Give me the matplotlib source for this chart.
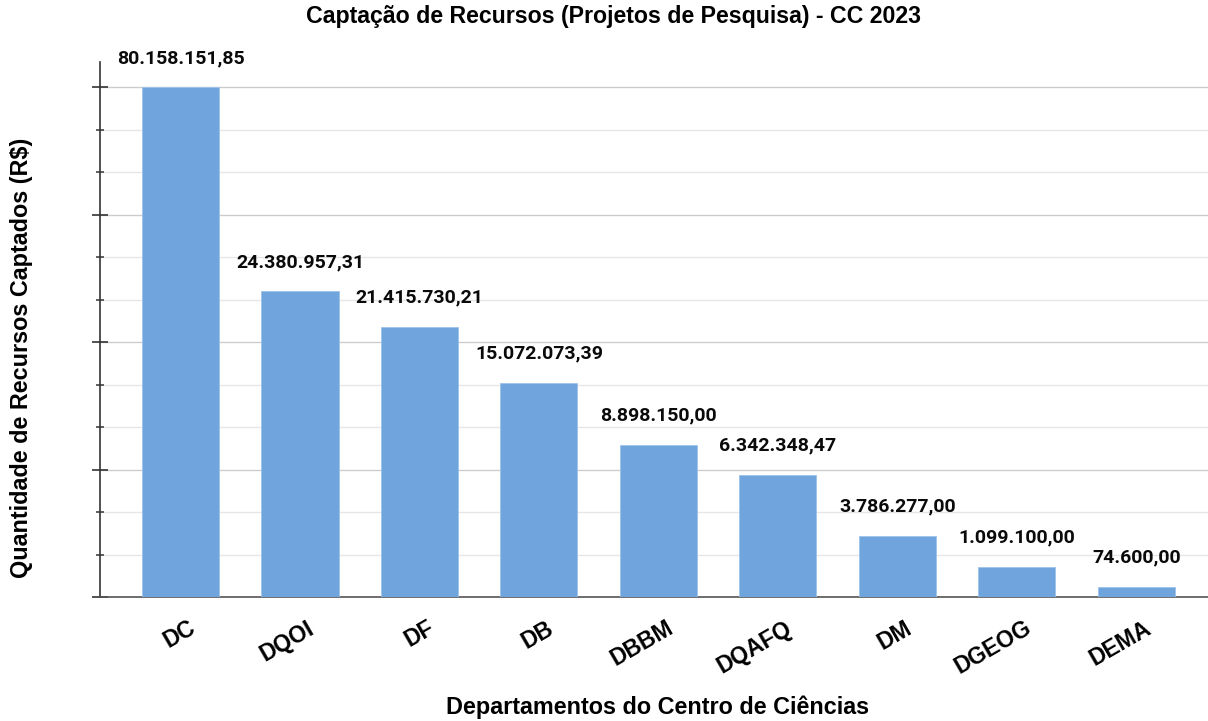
import matplotlib
matplotlib.use("Agg")
import matplotlib.pyplot as plt
import matplotlib.transforms as mtransforms
from matplotlib.ticker import MultipleLocator

# departments and the values printed above each bar (R$)
departments = ["DC", "DQOI", "DF", "DB", "DBBM", "DQAFQ", "DM", "DGEOG", "DEMA"]
value_labels = ["80.158.151,85", "24.380.957,31", "21.415.730,21", "15.072.073,39",
                "8.898.150,00", "6.342.348,47", "3.786.277,00", "1.099.100,00", "74.600,00"]
# bar heights as drawn in the reference, in gridline units (axis has no tick labels)
bar_heights = [12.0, 7.20, 6.37, 5.04, 3.59, 2.88, 1.445, 0.71, 0.235]

TITLE = "Captação de Recursos (Projetos de Pesquisa) - CC 2023"
X_LABEL = "Departamentos do Centro de Ciências"
Y_LABEL = "Quantidade de Recursos Captados (R$)"
BAR_COLOR = "#6fa5dc"
ARIAL = ["Liberation Sans", "DejaVu Sans"]


def main() -> None:
    fig = plt.figure(figsize=(12.08, 7.21), dpi=100)
    ax = fig.add_axes([100 / 1208, 1 - 597 / 721, 1 - 100 / 1208, (597 - 62) / 721])

    x = list(range(len(departments)))
    ax.bar(x, bar_heights, width=0.645, color=BAR_COLOR, edgecolor="#9cc2ea",
           linewidth=0.6, zorder=3)

    for xi, h, lab in zip(x, bar_heights, value_labels):
        ax.annotate(lab, (xi, h), xytext=(0, 14.5), textcoords="offset points",
                    ha="center", va="bottom", fontsize=14, fontweight="bold",
                    family=["Roboto", "DejaVu Sans"], color="#0a0a0a")

    ax.set_xlim(-0.674, 8.6)
    ax.set_ylim(0, 12.6)

    ax.yaxis.set_major_locator(MultipleLocator(3))
    ax.yaxis.set_minor_locator(MultipleLocator(1))
    ax.tick_params(axis="y", which="major", direction="inout", length=11, width=1.2,
                   color="#333333", labelleft=False)
    ax.tick_params(axis="y", which="minor", direction="inout", length=6, width=1.2,
                   color="#444444")
    ax.grid(axis="y", which="major", color="#cccccc", linewidth=1.0, zorder=0)
    ax.grid(axis="y", which="minor", color="#e6e6e6", linewidth=1.0, zorder=0)
    ax.set_axisbelow(True)

    for side in ("top", "right"):
        ax.spines[side].set_visible(False)
    ax.spines["left"].set_color("#333333")
    ax.spines["left"].set_linewidth(1.2)
    ax.spines["bottom"].set_color("#555555")
    ax.spines["bottom"].set_linewidth(1.2)

    ax.set_xticks(x)
    ax.set_xticklabels(departments, rotation=30, ha="right", rotation_mode="anchor",
                       fontsize=16.5, fontweight="bold", family=ARIAL)
    ax.tick_params(axis="x", length=0, pad=14)
    shift = mtransforms.ScaledTranslation(7 / 100, 0, fig.dpi_scale_trans)
    for lbl in ax.get_xticklabels():
        lbl.set_transform(lbl.get_transform() + shift)

    fig.text(658 / 1208, 1 - 707 / 721, X_LABEL, ha="center", va="center",
             fontsize=16.8, fontweight="bold", family=ARIAL)
    fig.text(22 / 1208, 1 - 358 / 721, Y_LABEL, ha="center", va="center", rotation=90,
             fontsize=16.8, fontweight="bold", family=ARIAL)
    fig.text(613 / 1208, 1 - 17 / 721, TITLE, ha="center", va="center",
             fontsize=16.7, fontweight="bold", family=ARIAL)

    fig.savefig("out.png", dpi=100)
    plt.close(fig)


if __name__ == "__main__":
    main()
